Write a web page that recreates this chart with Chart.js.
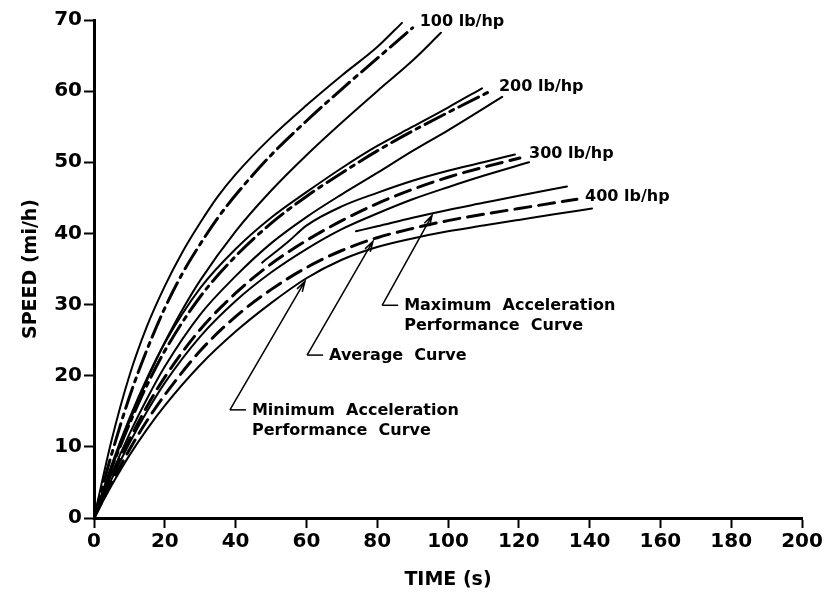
<!DOCTYPE html>
<html>
<head>
<meta charset="utf-8">
<script src="https://cdn.jsdelivr.net/npm/chart.js@4.4.0/dist/chart.umd.min.js"></script>
<style>
  html, body { margin: 0; padding: 0; background: #fff; }
  #wrap { width: 828px; height: 594px; }
</style>
</head>
<body>
<div id="wrap"><canvas id="chartAccel" width="828" height="594"></canvas></div>
<script>
// axis ticks
const timeTicks = [0, 20, 40, 60, 80, 100, 120, 140, 160, 180, 200];
const speedTicks = [0, 10, 20, 30, 40, 50, 60, 70];

// weight/power classes
const ratioLabels = ["100 lb/hp", "200 lb/hp", "300 lb/hp", "400 lb/hp"];

// [time s, speed mi/h]
const max100 = [[0,0],[5,11],[10,20],[15,27],[20,32.6],[25,37.4],[30,41.5],[35,45.2],[40,48.3],[50,53.5],[60,58],[70,62.2],[80,66.2],[87,69.6]];
const avg100 = [[0,0],[5,9],[10,17],[15,23.7],[20,29.5],[25,34.4],[30,38.5],[35,42.2],[40,45.4],[50,51],[60,55.8],[70,60.3],[80,64.6],[90,68.9]];
const min100 = [[0,0],[5,7],[10,13.5],[15,19.4],[20,24.7],[25,29.3],[30,33.4],[40,40.3],[50,46],[60,51],[70,55.6],[80,60],[90,64.3],[98,68.2]];

const max200 = [[0,0],[5,7.5],[10,14],[15,19.7],[20,24.6],[30,32.3],[40,37.8],[50,42.2],[60,45.8],[70,49.2],[80,52.3],[90,55],[100,57.7],[109.6,60.4]];
const avg200 = [[0,0],[5,7],[10,13.2],[15,18.7],[20,23.5],[30,31.1],[40,36.8],[50,41.4],[60,45.2],[70,48.5],[80,51.6],[90,54.4],[100,57],[111.6,59.9]];
const min200 = [[0,0],[5,6.2],[10,11.8],[15,16.8],[20,21.3],[30,28.6],[40,34],[50,38.6],[60,42.3],[70,45.5],[80,48.5],[90,51.6],[100,54.5],[115.3,59.2]];

const max300 = [[47.5,35.9],[55,38.9],[60,41.1],[70,43.8],[80,45.7],[90,47.4],[100,48.8],[110,50],[118.9,51.1]];
const avg300 = [[0,0],[5,5.8],[10,11],[15,15.7],[20,19.8],[30,26.5],[40,31.6],[50,35.7],[60,39],[70,41.8],[80,44.2],[90,46.2],[100,47.9],[110,49.3],[120.3,50.6]];
const min300 = [[0,0],[5,5.5],[10,10.5],[15,15],[20,19],[30,25.5],[40,30.5],[50,34.5],[60,37.8],[70,40.6],[80,42.8],[90,44.8],[100,46.5],[110,48.1],[122.9,50]];

const max400 = [[74,40.3],[80,41],[90,42.2],[100,43.3],[110,44.3],[120,45.3],[133.6,46.6]];
const avg400 = [[0,0],[5,5],[10,9.6],[15,13.7],[20,17.3],[30,23.5],[40,28.3],[50,32.1],[60,35.2],[70,37.6],[80,39.4],[90,40.7],[100,41.8],[110,42.7],[120,43.5],[136.4,44.8]];
const min400 = [[0,0],[5,4.6],[10,8.8],[15,12.5],[20,15.8],[30,21.5],[40,26.2],[50,30.2],[60,33.7],[70,36.3],[80,38.1],[90,39.3],[100,40.3],[110,41.1],[120,41.9],[130,42.7],[140.7,43.5]];

const FONT = '"DejaVu Sans", sans-serif';

const solid = { width: 2, dash: [] };
const dashDot = { width: 3, dash: [22, 6, 4, 6] };
const longDash = { width: 3, dash: [16, 8] };

function curve(points, style) {
    return {
        data: points.map(([t, v]) => ({ x: t, y: v })),
        borderColor: "#000",
        borderWidth: style.width,
        borderDash: style.dash,
        borderCapStyle: "round",
        pointRadius: 0,
        cubicInterpolationMode: "monotone",
        fill: false
    };
}

// speed on a curve at time t (straight-line between read points)
function speedAt(points, t) {
    for (let i = 1; i < points.length; i++) {
        const [t0, v0] = points[i - 1];
        const [t1, v1] = points[i];
        if (t <= t1) return v0 + (v1 - v0) * (t - t0) / (t1 - t0);
    }
    return points[points.length - 1][1];
}

function arrow(ctx, x0, y0, x1, y1) {
    const a = Math.atan2(y1 - y0, x1 - x0);
    const len = 11, spread = 0.28;
    ctx.beginPath();
    ctx.moveTo(x0, y0);
    ctx.lineTo(x1, y1);
    ctx.moveTo(x1 - len * Math.cos(a - spread), y1 - len * Math.sin(a - spread));
    ctx.lineTo(x1, y1);
    ctx.lineTo(x1 - len * Math.cos(a + spread), y1 - len * Math.sin(a + spread));
    ctx.stroke();
}

const labelsPlugin = {
    id: "curveLabels",
    afterDatasetsDraw(chart) {
        const { ctx, scales: { x, y } } = chart;
        ctx.save();
        ctx.fillStyle = "#000";
        ctx.strokeStyle = "#000";
        ctx.textBaseline = "middle";
        ctx.textAlign = "left";

        // lb/hp tags next to curve ends
        ctx.font = "bold 16px " + FONT;
        const tagPos = [[92, 69.8], [114.4, 60.6], [122.9, 51.2], [138.7, 45.1]];
        ratioLabels.forEach((txt, i) => {
            ctx.fillText(txt, x.getPixelForValue(tagPos[i][0]), y.getPixelForValue(tagPos[i][1]));
        });

        // call-outs pointing at the 400 lb/hp curves
        ctx.lineWidth = 1.5;
        const callouts = [
            { curve: max400, tipT: 95.5, foot: [81.4, 29.9], lines: ["Maximum  Acceleration", "Performance  Curve"] },
            { curve: avg400, tipT: 78.8, foot: [60.2, 22.9], lines: ["Average  Curve"] },
            { curve: min400, tipT: 59.6, foot: [38.4, 15.2], lines: ["Minimum  Acceleration", "Performance  Curve"] }
        ];
        ctx.font = "bold 16px " + FONT;
        callouts.forEach(c => {
            const fx = x.getPixelForValue(c.foot[0]);
            const fy = y.getPixelForValue(c.foot[1]);
            const tx = x.getPixelForValue(c.tipT);
            const ty = y.getPixelForValue(speedAt(c.curve, c.tipT)) + 2;
            ctx.beginPath();
            ctx.moveTo(fx + 16, fy);
            ctx.lineTo(fx, fy);
            ctx.stroke();
            arrow(ctx, fx, fy, tx, ty);
            c.lines.forEach((line, k) => {
                ctx.fillText(line, fx + 22, fy + 1 + k * 20);
            });
        });
        ctx.restore();
    }
};

const axisLine = { display: true, color: "#000", width: 3 };
const tickMarks = { drawOnChartArea: false, drawTicks: true, tickLength: 10, tickWidth: 2, tickColor: "#000" };
const tickFont = { family: FONT, size: 20, weight: "bold" };
const titleFont = { family: FONT, size: 19, weight: "bold" };

new Chart(document.getElementById("chartAccel"), {
    type: "line",
    data: {
        datasets: [
            curve(max100, solid), curve(avg100, dashDot), curve(min100, solid),
            curve(max200, solid), curve(avg200, dashDot), curve(min200, solid),
            curve(max300, solid), curve(avg300, longDash), curve(min300, solid),
            curve(max400, solid), curve(avg400, longDash), curve(min400, solid)
        ]
    },
    options: {
        responsive: false,
        animation: false,
        devicePixelRatio: 1,
        layout: { padding: { top: 20, right: 26, left: 0, bottom: 0 } },
        plugins: { legend: { display: false }, tooltip: { enabled: false } },
        scales: {
            x: {
                type: "linear",
                min: 0, max: 200,
                afterBuildTicks: s => { s.ticks = timeTicks.map(v => ({ value: v })); },
                afterFit: s => { s.height = 76; },
                ticks: { color: "#000", padding: 2, font: tickFont },
                grid: tickMarks,
                border: axisLine,
                title: { display: true, text: "TIME (s)", color: "#000", padding: { top: 0, bottom: 3 }, font: titleFont }
            },
            y: {
                type: "linear",
                min: 0, max: 70,
                afterBuildTicks: s => { s.ticks = speedTicks.map(v => ({ value: v })); },
                afterFit: s => { s.width = 94; },
                ticks: { color: "#000", padding: 2, font: tickFont },
                grid: tickMarks,
                border: axisLine,
                title: { display: true, text: "SPEED (mi/h)", color: "#000", padding: { top: 20, bottom: 0 }, font: titleFont }
            }
        }
    },
    plugins: [labelsPlugin]
});
</script>
</body>
</html>
